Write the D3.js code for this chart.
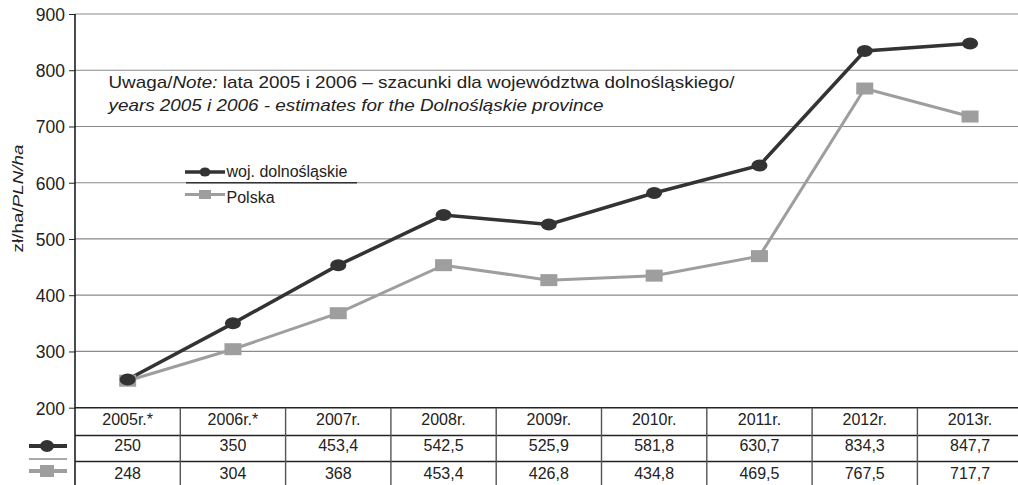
<!DOCTYPE html>
<html>
<head>
<meta charset="utf-8">
<script src="https://cdn.jsdelivr.net/npm/d3@7"></script>
<style>
  body { margin: 0; background: #fff; }
  svg { display: block; font-family: "Liberation Sans", Arial, sans-serif; }
</style>
</head>
<body>
<div id="canvas"></div>
<script>
// data
const years = ["2005r.*", "2006r.*", "2007r.", "2008r.", "2009r.", "2010r.", "2011r.", "2012r.", "2013r."];
const dolnoslaskie = [250, 350, 453.4, 542.5, 525.9, 581.8, 630.7, 834.3, 847.7];
const polska = [248, 304, 368, 453.4, 426.8, 434.8, 469.5, 767.5, 717.7];
const yTicks = [200, 300, 400, 500, 600, 700, 800, 900];

const fmt = v => String(v).replace(".", ",");

const width = 1018;
const height = 485;
const left = 75;
const colW = 105.3;

const svg = d3.select("#canvas").append("svg")
    .attr("width", width)
    .attr("height", height);

const x = d3.scaleBand()
    .domain(years)
    .range([left, left + colW * years.length]);

const y = d3.scaleLinear()
    .domain([200, 900])
    .range([407.7, 14]);

const cx = d => x(d) + x.bandwidth() / 2;

// grid lines
svg.append("g").selectAll("line").data(yTicks.filter(t => t > 200)).enter().append("line")
    .attr("x1", left).attr("x2", width)
    .attr("y1", d => y(d)).attr("y2", d => y(d))
    .attr("stroke", "#8a8a8a")
    .attr("stroke-width", 1.2);

// y axis
const yAxis = svg.append("g")
    .attr("transform", `translate(${left},0)`)
    .call(d3.axisLeft(y).tickValues(yTicks).tickSize(6).tickPadding(4));
yAxis.select(".domain").remove();
yAxis.selectAll(".tick line").attr("stroke", "#222");
yAxis.selectAll("text")
    .attr("font-size", 17.5)
    .attr("font-family", "Liberation Sans, Arial, sans-serif")
    .attr("dy", "0.36em")
    .attr("fill", "#222");

svg.append("line")
    .attr("x1", left).attr("x2", left)
    .attr("y1", y(900)).attr("y2", height)
    .attr("stroke", "#111").attr("stroke-width", 1.5);

// y label (text in the original is stretched along its direction)
const yl = svg.append("text")
    .attr("transform", "translate(23,198.5) rotate(-90) scale(1.3,1)")
    .attr("text-anchor", "middle")
    .attr("font-size", 14.5)
    .attr("fill", "#222");
yl.append("tspan").text("zł/ha/");
yl.append("tspan").attr("font-style", "italic").text("PLN/ha");

// note
const note = svg.append("g").attr("fill", "#222").attr("font-size", 16);
const n1 = note.append("text").attr("transform", "translate(108.5,87.5) scale(1.18,1)");
n1.append("tspan").text("Uwaga/");
n1.append("tspan").attr("font-style", "italic").text("Note:");
n1.append("tspan").text(" lata 2005 i 2006 – szacunki dla województwa dolnośląskiego/");
note.append("text").attr("transform", "translate(108.5,110.5) scale(1.18,1)")
    .attr("font-style", "italic")
    .text("years 2005 i 2006 - estimates for the Dolnośląskie province");

// series lines
const series = [
    { name: "woj. dolnośląskie", values: dolnoslaskie, color: "#333333", width: 3.5, shape: "circle" },
    { name: "Polska", values: polska, color: "#9e9e9e", width: 3, shape: "square" }
];

const line = d3.line()
    .x((d, i) => cx(years[i]))
    .y(d => y(d));

series.slice().reverse().forEach(s => {
    svg.append("path")
        .datum(s.values)
        .attr("d", line)
        .attr("fill", "none")
        .attr("stroke", s.color)
        .attr("stroke-width", s.width);
});

function marker(g, s, px, py) {
    if (s.shape === "circle") {
        g.append("ellipse")
            .attr("cx", px).attr("cy", py)
            .attr("rx", 8).attr("ry", 6)
            .attr("fill", s.color);
    } else {
        g.append("rect")
            .attr("x", px - 8.5).attr("y", py - 6)
            .attr("width", 17).attr("height", 12)
            .attr("fill", s.color);
    }
}

series.slice().reverse().forEach(s => {
    const g = svg.append("g");
    s.values.forEach((v, i) => marker(g, s, cx(years[i]), y(v)));
});

// legend in plot
const legend = svg.append("g");
legend.append("line")
    .attr("x1", 186).attr("x2", 357)
    .attr("y1", y(600)).attr("y2", y(600))
    .attr("stroke", "#333").attr("stroke-width", 1.3);
const legY = [172, 194.5];
const legText = [176.7, 202.7];
series.forEach((s, i) => {
    const ly = legY[i];
    legend.append("line")
        .attr("x1", 185).attr("x2", 225)
        .attr("y1", ly).attr("y2", ly)
        .attr("stroke", s.color).attr("stroke-width", s.width);
    if (s.shape === "circle") {
        legend.append("ellipse").attr("cx", 205).attr("cy", ly).attr("rx", 5.5).attr("ry", 4.5).attr("fill", s.color);
    } else {
        legend.append("rect").attr("x", 199).attr("y", ly - 4.5).attr("width", 12).attr("height", 9).attr("fill", s.color);
    }
    legend.append("text")
        .attr("x", 226.5).attr("y", legText[i])
        .attr("font-size", 16)
        .attr("fill", "#222")
        .text(s.name);
});

// data table
const rowY = [407.7, 435.5, 461.5];
const rowBase = [425.3, 450.5, 478.5];
const table = svg.append("g");

table.selectAll("line.h").data(rowY).enter().append("line")
    .attr("x1", left).attr("x2", width)
    .attr("y1", d => d).attr("y2", d => d)
    .attr("stroke", "#222").attr("stroke-width", 1.4);

table.selectAll("line.v").data(years.slice(1)).enter().append("line")
    .attr("x1", d => x(d)).attr("x2", d => x(d))
    .attr("y1", rowY[0]).attr("y2", height)
    .attr("stroke", "#555").attr("stroke-width", 1.4);

const rows = [years, dolnoslaskie.map(fmt), polska.map(fmt)];
rows.forEach((r, ri) => {
    table.append("g").selectAll("text").data(r).enter().append("text")
        .attr("x", (d, i) => cx(years[i]))
        .attr("y", rowBase[ri])
        .attr("text-anchor", "middle")
        .attr("font-size", 16)
        .attr("fill", "#222")
        .text(d => d);
});

// legend keys in the table
table.append("line")
    .attr("x1", 29).attr("x2", 67)
    .attr("y1", 459).attr("y2", 459)
    .attr("stroke", "#555").attr("stroke-width", 1.2);
series.forEach((s, i) => {
    const ky = i === 0 ? 446 : 471;
    table.append("line")
        .attr("x1", 29).attr("x2", 67)
        .attr("y1", ky).attr("y2", ky)
        .attr("stroke", s.color).attr("stroke-width", 4);
    if (s.shape === "circle") {
        table.append("ellipse").attr("cx", 47).attr("cy", ky).attr("rx", 7).attr("ry", 6).attr("fill", s.color);
    } else {
        table.append("rect").attr("x", 40).attr("y", ky - 6).attr("width", 14).attr("height", 12).attr("fill", s.color);
    }
});
</script>
</body>
</html>
